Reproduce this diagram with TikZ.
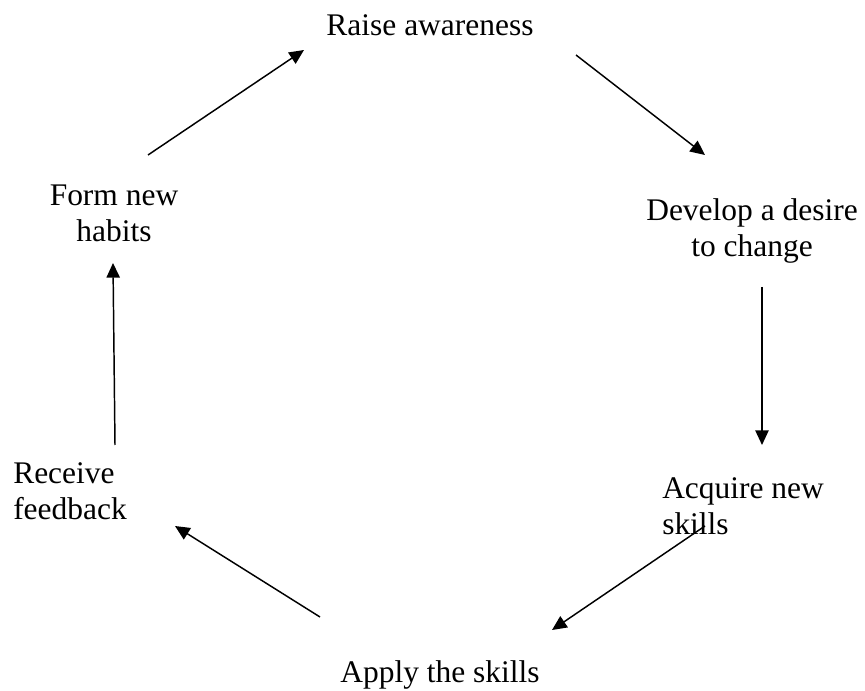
\documentclass[tikz,border=0pt]{standalone}
\usepackage{fontspec}
\setmainfont{Liberation Serif}
\usetikzlibrary{arrows.meta}

\begin{document}
\begin{tikzpicture}[
  x=0.75pt, y=-0.75pt,
  stage/.style = {font=\fontsize{23.6pt}{27pt}\selectfont, inner sep=0pt},
  arr/.style = {-{Triangle[length=11pt, width=10pt]}, line width=1.1pt},
]
  \useasboundingbox (0,0) rectangle (865,691);

  % base anchor = last line of the node
  \node[stage, anchor=base] (raise) at (430,36) {Raise awareness};
  \node[stage, anchor=base, align=center] (desire) at (752,257) {Develop a desire\\to change};
  \node[stage, anchor=base west, align=left] (acquire) at (662,535) {Acquire new\\skills};
  \node[stage, anchor=base] (apply) at (440,682) {Apply the skills};
  \node[stage, anchor=base west, align=left] (feedback) at (13,520) {Receive\\feedback};
  \node[stage, anchor=base, align=center] (habits) at (114,242) {Form new\\habits};

  % arrow ends
  \coordinate (hab1) at (148,155);
  \coordinate (rai0) at (304,50);
  \coordinate (rai1) at (576,55);
  \coordinate (des0) at (705,155);
  \coordinate (des1) at (762,287);
  \coordinate (acq0) at (762,445);
  \coordinate (acq1) at (705,526);
  \coordinate (app0) at (552,630);
  \coordinate (app1) at (320,617);
  \coordinate (fee0) at (175,526);
  \coordinate (fee1) at (115,445);
  \coordinate (hab0) at (113,263);

  \draw[arr] (hab1) -- (rai0);
  \draw[arr] (rai1) -- (des0);
  \draw[arr] (des1) -- (acq0);
  \draw[arr] (acq1) -- (app0);
  \draw[arr] (app1) -- (fee0);
  \draw[arr] (fee1) -- (hab0);
\end{tikzpicture}
\end{document}
